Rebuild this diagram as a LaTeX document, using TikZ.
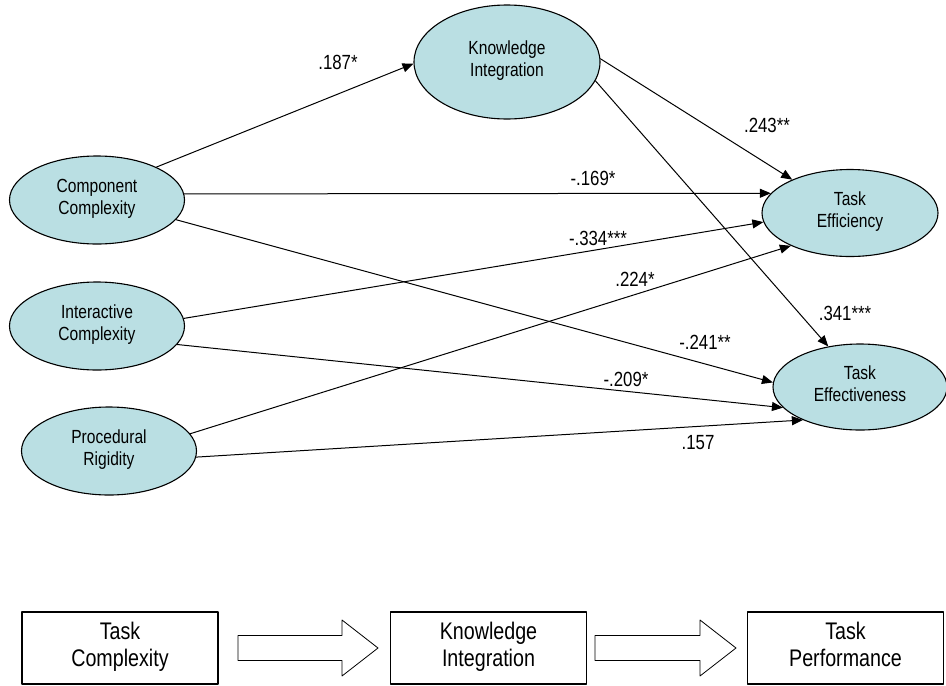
\documentclass[tikz,border=0pt]{standalone}
\usepackage{fontspec}
\setmainfont{Liberation Sans}[FakeStretch=0.82]
\usepackage{tikz}
\usetikzlibrary{arrows.meta,shapes.geometric}
\definecolor{construct_fill}{HTML}{BADFE3}

\begin{document}
\begin{tikzpicture}[
                x=1pt,
                y=-1pt,
                line cap=round,
                line join=round,
                construct/.style={ellipse, draw, line width=1.1pt, fill=construct_fill,
                    inner sep=0pt, minimum width=175pt, minimum height=88pt,
                    align=center, font=\fontsize{19}{22}\selectfont,
                    execute at end node={\strut}},
                effect/.style={draw, line width=1pt, -{Triangle[length=11pt,width=9pt]}},
                coef/.style={inner sep=0pt, font=\fontsize{20.5}{24}\selectfont},
                block/.style={rectangle, draw, line width=1.2pt, minimum width=196pt,
                    minimum height=72pt, align=center, font=\fontsize{24}{27}\selectfont,
                    execute at end node={\strut}},
                flow/.style={draw, line width=0.8pt, fill=white}
            ]
            \useasboundingbox (0,0) rectangle (946,686);

            % Constructs of the path model
            \node[construct] (comp) at (97,200) {Component\\Complexity};
            \node[construct] (inter) at (97,326) {Interactive\\Complexity};
            \node[construct] (rigid) at (109,451) {Procedural\\Rigidity};
            \node[construct, minimum width=186pt, minimum height=114pt] (know) at (507,62) {Knowledge\\Integration};
            \node[construct, minimum width=176pt, minimum height=87pt] (effic) at (850,213) {Task\\Efficiency};
            \node[construct, minimum width=174pt, minimum height=86pt] (effec) at (860,387) {Task\\Effectiveness};

            % Paths
            \draw[effect] (comp.29) -- (know.181);
            \draw[effect] (know.2) -- (effic.150);
            \draw[effect] (know.-12) -- (effec.128);
            \draw[effect] (comp.4) -- (effic.166);
            \draw[effect] (comp.-14) -- (effec.177);
            \draw[effect] (inter.5) -- (effic.186);
            \draw[effect] (inter.-13) -- (effec.195);
            \draw[effect] (rigid.12) -- (effic.209);
            \draw[effect] (rigid.-4) -- (effec.210);

            % Path coefficients
            \node[coef] (c1) at (338,62) {.187*};
            \node[coef] (c2) at (767,125) {.243**};
            \node[coef] (c3) at (593,178) {-.169*};
            \node[coef] (c4) at (598,238) {-.334***};
            \node[coef] (c5) at (635,279) {.224*};
            \node[coef] (c6) at (845,313) {.341***};
            \node[coef] (c7) at (705,342) {-.241**};
            \node[coef] (c8) at (626,379) {-.209*};
            \node[coef] (c9) at (698,443) {.157};

            % Research framework
            \node[block] (tc) at (120,648) {Task\\Complexity};
            \node[block] (ki) at (488.5,648) {Knowledge\\Integration};
            \node[block] (tp) at (845.5,648) {Task\\Performance};

            \draw[flow] (238,635.5) -- (342,635.5) -- (342,620) -- (378,648)
                -- (342,676) -- (342,660.5) -- (238,660.5) -- cycle;
            \draw[flow] (595,635.5) -- (700,635.5) -- (700,620) -- (736,648)
                -- (700,676) -- (700,660.5) -- (595,660.5) -- cycle;
        \end{tikzpicture}
\end{document}
